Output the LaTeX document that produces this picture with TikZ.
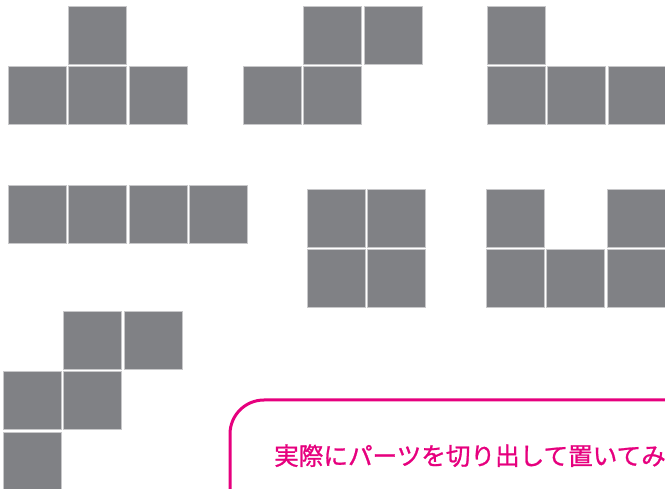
\documentclass[tikz,border=0pt]{standalone}
\usepackage{fontspec}
\newfontfamily\jpfont[FakeBold=1]{Noto Sans CJK JP}
\definecolor{tilegray}{RGB}{128,129,133}
\definecolor{tileedge}{RGB}{200,200,202}
\definecolor{pinkline}{RGB}{230,0,126}
\tikzset{
  cell/.style={fill=tilegray, draw=tileedge, line width=0.7pt},
  framebox/.style={draw=pinkline, line width=3pt, rounded corners=34pt},
}
\begin{document}
\begin{tikzpicture}[x=1pt, y=-1pt]
			\useasboundingbox (0,0) rectangle (665,489);
			\clip (0,0) rectangle (665,489);

			% Row one: T, S and L pieces
			\begin{scope}[shift={(8,6)}]
				\foreach \c/\r in {1/0, 0/1, 1/1, 2/1}
					\draw[cell] ({\c*60.6},{\r*60.6}) rectangle +(58,58);
			\end{scope}
			\begin{scope}[shift={(243,6)}]
				\foreach \c/\r in {1/0, 2/0, 0/1, 1/1}
					\draw[cell] ({\c*60.6},{\r*60.6}) rectangle +(58,58);
			\end{scope}
			\begin{scope}[shift={(487,6)}]
				\foreach \c/\r in {0/0, 0/1, 1/1, 2/1}
					\draw[cell] ({\c*60.6},{\r*60.6}) rectangle +(58,58);
			\end{scope}

			% Row two: I, O and U pieces
			\begin{scope}[shift={(8,185)}]
				\foreach \c in {0,...,3}
					\draw[cell] ({\c*60.6},0) rectangle +(58,58);
			\end{scope}
			\begin{scope}[shift={(307,189)}]
				\foreach \c/\r in {0/0, 1/0, 0/1, 1/1}
					\draw[cell] ({\c*60.6},{\r*60.6}) rectangle +(58,58);
			\end{scope}
			\begin{scope}[shift={(486,189)}]
				\foreach \c/\r in {0/0, 2/0, 0/1, 1/1, 2/1}
					\draw[cell] ({\c*60.6},{\r*60.6}) rectangle +(58,58);
			\end{scope}

			% Row three: W piece
			\begin{scope}[shift={(3,311)}]
				\foreach \c/\r in {1/0, 2/0, 0/1, 1/1, 0/2}
					\draw[cell] ({\c*60.6},{\r*60.6}) rectangle +(58,58);
			\end{scope}

			% Draw the note box
			\draw[framebox] (230,400) rectangle (720,600);
			\node[anchor=base west, inner sep=0pt, text=pinkline, font=\jpfont\fontsize{24.6pt}{30pt}\selectfont] (note) at (274,465) {実際にパーツを切り出して置いてみ};
		\end{tikzpicture}
\end{document}
